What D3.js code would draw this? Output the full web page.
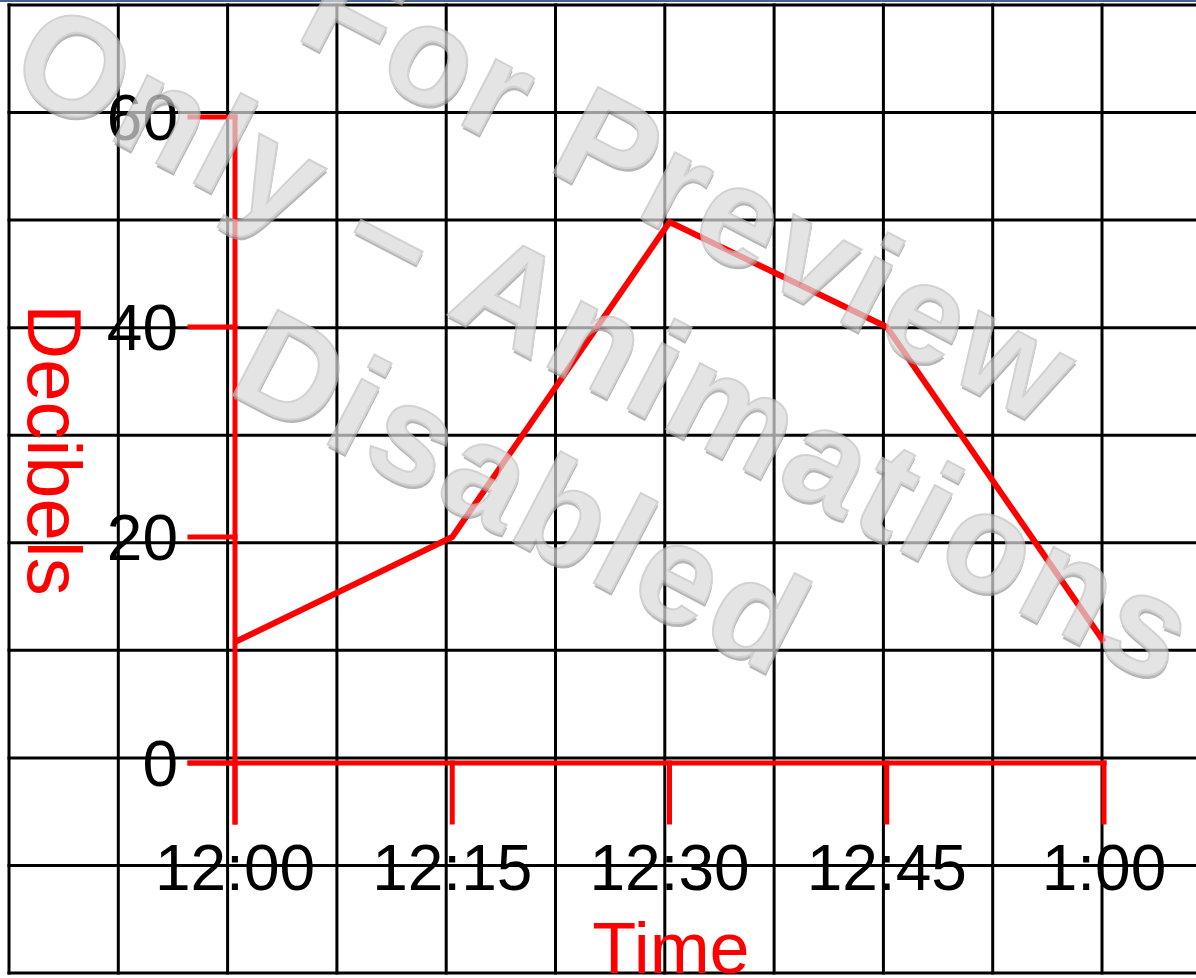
<!DOCTYPE html>
<html>
<head>
<meta charset="utf-8">
<script src="https://cdn.jsdelivr.net/npm/d3@7"></script>
<style>
  html, body { margin: 0; padding: 0; background: #fff; }
  svg { display: block; }
</style>
</head>
<body>
<script>
// ---- data ----
const timeLabels = ["12:00", "12:15", "12:30", "12:45", "1:00"];
const decibels = [10, 20, 50, 40, 10];
const yTickValues = [0, 20, 40, 60];
const yTitle = "Decibels";
const xTitle = "Time";
const watermarkLines = ["For Preview", "Only – Animations", "Disabled"];

// ---- layout ----
const W = 1196, H = 978;
const RED = "#ff0000";
const FONT = "'Comic Sans MS', 'Liberation Sans', Arial, sans-serif";

const svg = d3.select("body").append("svg")
  .attr("width", W).attr("height", H);

svg.append("rect").attr("width", W).attr("height", H).attr("fill", "#fff");

// background grid (slide grid paper)
const gridCols = 10, gridRows = 9;
const gx = d3.scaleLinear().domain([0, gridCols]).range([9, 1102]);
const gy = d3.scaleLinear().domain([0, gridRows]).range([5, 973]);
const grid = svg.append("g").attr("stroke", "#000").attr("stroke-width", 3);
grid.selectAll("line.v").data(d3.range(gridCols + 1)).join("line")
  .attr("class", "v")
  .attr("x1", d => gx(d)).attr("x2", d => gx(d))
  .attr("y1", gy(0) - 1.5).attr("y2", gy(gridRows) + 1.5);
grid.selectAll("line.h").data(d3.range(gridRows + 1)).join("line")
  .attr("class", "h")
  .attr("x1", gx(0) - 1.5).attr("x2", W)
  .attr("y1", d => gy(d)).attr("y2", d => gy(d));

// thin top border
svg.append("line").attr("x1", 0).attr("x2", W).attr("y1", 1).attr("y2", 1)
  .attr("stroke", "#46648f").attr("stroke-width", 2);

// ---- scales ----
const x = d3.scalePoint().domain(timeLabels).range([235, 1104]);
const y = d3.scaleLinear().domain([0, 10, 60]).range([763, 642, 117]);

const axisG = svg.append("g").attr("stroke", RED).attr("stroke-width", 5)
  .attr("stroke-linecap", "square");
const tickLen = 59, yTickLen = 45;
const x0 = x(timeLabels[0]);

// y axis line
axisG.append("line")
  .attr("x1", x0).attr("x2", x0)
  .attr("y1", y(60)).attr("y2", y(0) + tickLen);
// y ticks
axisG.selectAll("line.yt").data(yTickValues).join("line")
  .attr("class", "yt")
  .attr("x1", x0 - yTickLen).attr("x2", x0)
  .attr("y1", d => y(d)).attr("y2", d => y(d));
// x axis line
axisG.append("line")
  .attr("x1", x0 - yTickLen).attr("x2", x(timeLabels[timeLabels.length - 1]))
  .attr("y1", y(0)).attr("y2", y(0));
// x ticks
axisG.selectAll("line.xt").data(timeLabels).join("line")
  .attr("class", "xt")
  .attr("x1", d => x(d)).attr("x2", d => x(d))
  .attr("y1", y(0)).attr("y2", y(0) + tickLen);

// data line
const pts = timeLabels.map((t, i) => [x(t), y(decibels[i])]);
svg.append("path")
  .attr("d", d3.line()(pts))
  .attr("fill", "none").attr("stroke", RED).attr("stroke-width", 6)
  .attr("stroke-linejoin", "round");

// tick labels
svg.selectAll("text.xl").data(timeLabels).join("text")
  .attr("class", "xl")
  .attr("x", d => x(d)).attr("y", y(0) + 127)
  .attr("text-anchor", "middle")
  .attr("font-family", FONT).attr("font-size", 64).attr("fill", "#000")
  .text(d => d);
svg.selectAll("text.yl").data(yTickValues).join("text")
  .attr("class", "yl")
  .attr("x", x0 - 57).attr("y", d => y(d))
  .attr("dy", "0.36em")
  .attr("text-anchor", "end")
  .attr("font-family", FONT).attr("font-size", 64).attr("fill", "#000")
  .text(d => d);

// axis titles
svg.append("text")
  .attr("x", 671).attr("y", 973)
  .attr("text-anchor", "middle")
  .attr("font-family", FONT).attr("font-size", 72).attr("fill", RED)
  .text(xTitle);
svg.append("text")
  .attr("transform", "translate(28,450) rotate(90)")
  .attr("text-anchor", "middle")
  .attr("font-family", FONT).attr("font-size", 76).attr("fill", RED)
  .text(yTitle);

// watermark
const wmOrigins = [[293, 37], [4, 84], [225, 391]];
const wm = svg.append("g").attr("opacity", 0.72);
watermarkLines.forEach((t, i) => {
  const [ox, oy] = wmOrigins[i];
  const g = wm.append("g").attr("transform", `translate(${ox},${oy}) rotate(27.5)`);
  const common = s => s
    .attr("font-family", "'Liberation Sans', Arial, sans-serif")
    .attr("font-weight", "bold")
    .attr("font-size", 140)
    .style("letter-spacing", "5px")
    .text(t);
  g.append("text").call(common)
    .attr("x", 2).attr("y", 3)
    .attr("fill", "#9a9a9a");
  g.append("text").call(common)
    .attr("fill", "#dadada")
    .attr("stroke", "#c2c2c2").attr("stroke-width", 2);
});
</script>
</body>
</html>
